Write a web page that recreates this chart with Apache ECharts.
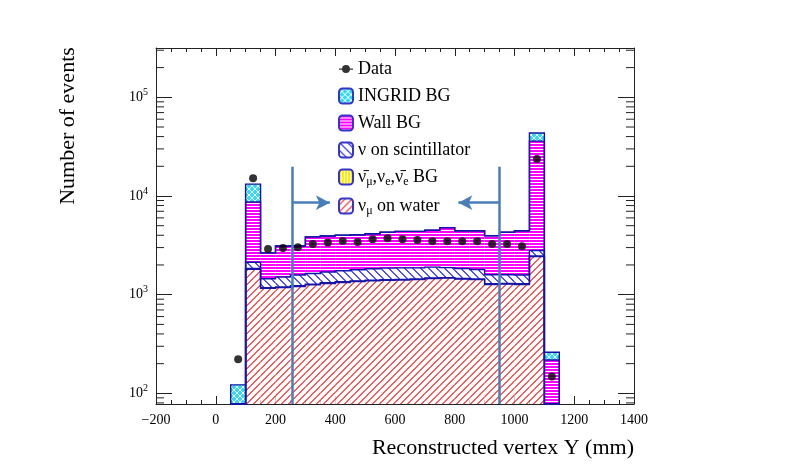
<!DOCTYPE html>
<html>
<head>
    <meta charset="utf-8" />
    <title>Reconstructed vertex Y</title>
    <script src="https://cdn.jsdelivr.net/npm/echarts@6/dist/echarts.min.js"></script>
    <style type="text/css">
        html,
        body {
            width: 100%;
            height: 100%;
            margin: 0;
            background: #fff;
        }

        #main {
            width: 792px;
            height: 476px;
        }
    </style>
</head>

<body>
    <div id="main"></div>
    <script>
        // histogram bins (lower edges, mm) and stacked components
        var binLow = [50, 100, 150, 200, 250, 300, 350, 400, 450, 500, 550, 600, 650, 700, 750, 800, 850, 900, 950, 1000, 1050, 1100];
        var binWidth = 50;
        var numuWater = [0, 1810, 1160, 1180, 1210, 1260, 1300, 1330, 1360, 1380, 1400, 1410, 1420, 1460, 1470, 1440, 1420, 1270, 1280, 1270, 2430, 0];
        var antinuBG = [0, 30, 20, 20, 20, 20, 20, 20, 20, 20, 20, 20, 20, 20, 20, 20, 20, 20, 20, 20, 40, 0];
        var scintBG = [0, 290, 270, 310, 350, 360, 380, 400, 410, 430, 440, 440, 430, 420, 390, 380, 360, 300, 290, 290, 330, 0];
        var wallBG = [0, 6570, 1200, 1600, 1530, 2210, 2230, 2250, 2260, 2320, 2440, 2510, 2510, 2590, 2900, 2610, 2650, 2360, 2700, 2870, 33200, 218];
        var ingridBG = [122, 4500, 0, 0, 0, 0, 0, 0, 0, 0, 0, 0, 0, 0, 0, 0, 0, 0, 0, 0, 7500, 43];

        var dataX = [75, 125, 175, 225, 275, 325, 375, 425, 475, 525, 575, 625, 675, 725, 775, 825, 875, 925, 975, 1025, 1075, 1125];
        var dataY = [222, 15100, 2900, 2970, 3020, 3265, 3370, 3500, 3420, 3650, 3720, 3640, 3580, 3480, 3480, 3480, 3480, 3265, 3265, 3100, 23700, 148];

        // fiducial cut lines
        var cutLow = 255, cutHigh = 950;
        var cutTop = 19800, arrowY = 8550;
        var arrowLowEnd = 382, arrowHighEnd = 812;

        var xMin = -200, xMax = 1400, xStep = 200;
        var yMin = 78, yMax = 316000;
        var yMinor = [];
        for (var e = 1; e <= 5; e++) {
            for (var m = 2; m <= 9; m++) {
                var v = m * Math.pow(10, e);
                if (v > yMin && v < yMax) yMinor.push(v);
            }
        }

        var serif = '"Liberation Serif", "DejaVu Serif", serif';
        var outlineColor = '#1414a8';

        // small pixel patterns, ROOT-like hatches
        function makePattern(w, h, bg, color, pixel) {
            var c = document.createElement('canvas');
            c.width = w;
            c.height = h;
            var g = c.getContext('2d');
            g.fillStyle = bg;
            g.fillRect(0, 0, w, h);
            g.fillStyle = color;
            for (var x = 0; x < w; x++) {
                for (var y = 0; y < h; y++) {
                    if (pixel(x, y, w, h)) g.fillRect(x, y, 1, 1);
                }
            }
            return { image: c, repeat: 'repeat' };
        }
        var waterFill = makePattern(7, 7, '#fff', '#ff5a5a', function (x, y, w) {
            var s = (x + y) % w;
            return s === w - 1 || s === w - 2;
        });
        var antinuFill = makePattern(3, 1, '#fff', '#ffee00', function (x) { return x < 2; });
        var scintFill = makePattern(8, 8, '#fff', '#5050ff', function (x, y, w) {
            var s = (x - y + w) % w;
            return s === 0 || s === 1;
        });
        var wallFill = makePattern(1, 3, '#fff', '#ff00ff', function (x, y) { return y < 2; });
        var ingridFill = makePattern(6, 6, '#2fdcf0', '#ffffff', function (x, y, w) { return x === y || x + y === w - 1; });

        var layers = [numuWater, antinuBG, scintBG, wallBG, ingridBG];
        var names = ['water', 'antinu', 'scint', 'Wall BG', 'INGRID BG'];
        var fills = [waterFill, antinuFill, scintFill, wallFill, ingridFill];

        // cumulative stack levels
        var cum = [];
        layers.forEach(function (arr, k) {
            cum.push(arr.map(function (val, i) {
                return val + (k > 0 ? cum[k - 1][i] : 0);
            }));
        });

        function layerSeries(k) {
            var items = [];
            binLow.forEach(function (x0, i) {
                var lo = k > 0 ? cum[k - 1][i] : 0;
                var hi = cum[k][i];
                if (hi > yMin && hi > lo) {
                    items.push([x0, x0 + binWidth, Math.max(lo, yMin), hi]);
                }
            });
            return {
                name: names[k],
                type: 'custom',
                silent: true,
                z: 2,
                itemStyle: { color: fills[k], borderColor: '#3535c8', borderWidth: 1 },
                encode: { x: [0, 1], y: [2, 3] },
                data: items,
                renderItem: function (params, api) {
                    var p0 = api.coord([api.value(0), api.value(3)]);
                    var p1 = api.coord([api.value(1), api.value(2)]);
                    return {
                        type: 'rect',
                        shape: { x: p0[0], y: p0[1], width: p1[0] - p0[0], height: p1[1] - p0[1] },
                        style: { fill: api.visual('color') }
                    };
                }
            };
        }

        var series = [];
        for (var k = 0; k < layers.length; k++) series.push(layerSeries(k));

        // step outlines of each stacked histogram
        series.push({
            type: 'custom',
            silent: true,
            z: 3,
            data: cum.map(function (c, k) { return [xMin, yMin, k]; }),
            renderItem: function (params, api) {
                var c = cum[params.dataIndex];
                var last = binLow.length - 1;
                var pts = [api.coord([binLow[0], yMin])];
                for (var i = 0; i <= last; i++) {
                    var v = Math.max(c[i], yMin);
                    pts.push(api.coord([binLow[i], v]));
                    pts.push(api.coord([binLow[i] + binWidth, v]));
                }
                pts.push(api.coord([binLow[last] + binWidth, yMin]));
                return {
                    type: 'polyline',
                    shape: { points: pts },
                    style: { stroke: outlineColor, lineWidth: 1.4, fill: null }
                };
            }
        });

        // log minor ticks on left and right frame
        series.push({
            type: 'custom',
            silent: true,
            z: 4,
            data: yMinor.map(function (v) { return [xMin, v]; }),
            renderItem: function (params, api) {
                var a = api.coord([xMin, api.value(1)]);
                var b = api.coord([xMax, api.value(1)]);
                return {
                    type: 'group',
                    children: [
                        { type: 'line', shape: { x1: a[0], y1: a[1], x2: a[0] + 8, y2: a[1] }, style: { stroke: '#222', lineWidth: 1 } },
                        { type: 'line', shape: { x1: b[0] - 8, y1: b[1], x2: b[0], y2: b[1] }, style: { stroke: '#222', lineWidth: 1 } }
                    ]
                };
            }
        });

        var cutStyle = { color: '#4a7ebb', width: 2.5, type: 'solid' };
        series.push({
            name: 'Data',
            type: 'scatter',
            z: 5,
            symbol: 'circle',
            symbolSize: 8,
            itemStyle: { color: '#000' },
            data: dataX.map(function (x, i) { return [x, dataY[i]]; }),
            markLine: {
                silent: true,
                symbol: ['none', 'none'],
                label: { show: false },
                lineStyle: cutStyle,
                data: [
                    [{ coord: [cutLow, cutTop] }, { coord: [cutLow, yMin] }],
                    [{ coord: [cutHigh, cutTop] }, { coord: [cutHigh, yMin] }],
                    [{ coord: [cutLow, arrowY] }, { coord: [arrowLowEnd, arrowY], symbol: 'arrow', symbolSize: [11, 14] }],
                    [{ coord: [cutHigh, arrowY] }, { coord: [arrowHighEnd, arrowY], symbol: 'arrow', symbolSize: [11, 14] }]
                ]
            }
        });

        var legendText = {
            'Data': '{t|Data}',
            'INGRID BG': '{t|INGRID BG}',
            'Wall BG': '{t|Wall BG}',
            'scint': '{t|\u03bd on scintillator}',
            'antinu': '{t|\u03bd\u0304}{s|\u03bc}{t|,\u03bd}{s|e}{t|,\u03bd\u0304}{s|e}{t| BG}',
            'water': '{t|\u03bd}{s|\u03bc}{t| on water}'
        };

        var dataIcon = 'path://M0,0 h0.01 v0.01 h-0.01 Z M14,15 h0.01 v0.01 h-0.01 Z ' +
            'M0,7 L14,7 L14,8.2 L0,8.2 Z M11,7.6 A4,4 0 1 1 3,7.6 A4,4 0 1 1 11,7.6 Z';

        var axisLine = { show: true, onZero: false, lineStyle: { color: '#222', width: 1 } };

        var option = {
            animation: false,
            backgroundColor: '#fff',
            grid: { left: 156, right: 158, top: 48, bottom: 72 },
            legend: {
                orient: 'vertical',
                left: 333,
                top: 55,
                itemWidth: 14,
                itemHeight: 15,
                itemGap: 9,
                selectedMode: false,
                data: [
                    { name: 'Data', icon: dataIcon, itemStyle: { color: '#000', borderWidth: 0 } },
                    'INGRID BG', 'Wall BG', 'scint', 'antinu', 'water'
                ],
                formatter: function (name) { return legendText[name]; },
                textStyle: {
                    color: '#000',
                    fontFamily: serif,
                    fontSize: 18,
                    rich: {
                        t: { fontFamily: serif, fontSize: 18, lineHeight: 22, color: '#000' },
                        s: { fontFamily: serif, fontSize: 12, lineHeight: 12, verticalAlign: 'bottom', color: '#000' }
                    }
                }
            },
            xAxis: [{
                type: 'value',
                min: xMin,
                max: xMax,
                interval: xStep,
                position: 'bottom',
                axisLine: axisLine,
                axisTick: { inside: true, length: 8, lineStyle: { color: '#222' } },
                minorTick: { show: true, splitNumber: 4, length: 4, lineStyle: { color: '#222' } },
                splitLine: { show: false },
                axisLabel: {
                    margin: 9,
                    color: '#000',
                    fontFamily: serif,
                    fontSize: 14,
                    formatter: function (v) { return String(v).replace('-', '\u2212'); }
                }
            }, {
                type: 'value',
                min: xMin,
                max: xMax,
                interval: xStep,
                position: 'top',
                axisLine: axisLine,
                axisTick: { inside: true, length: 8, lineStyle: { color: '#222' } },
                minorTick: { show: true, splitNumber: 4, length: 4, lineStyle: { color: '#222' } },
                splitLine: { show: false },
                axisLabel: { show: false }
            }],
            yAxis: [{
                type: 'log',
                logBase: 10,
                min: yMin,
                max: yMax,
                position: 'left',
                axisLine: axisLine,
                axisTick: { inside: true, length: 16, lineStyle: { color: '#222' } },
                splitLine: { show: false },
                axisLabel: {
                    margin: 8,
                    formatter: function (v) {
                        var p = Math.round(Math.log10(v));
                        if (Math.abs(Math.pow(10, p) - v) > 1e-6 * v) return '';
                        return '{b|10}{s|' + p + '}';
                    },
                    rich: {
                        b: { fontFamily: serif, fontSize: 14, lineHeight: 20, color: '#000' },
                        s: { fontFamily: serif, fontSize: 10, lineHeight: 10, verticalAlign: 'top', color: '#000' }
                    }
                }
            }, {
                type: 'log',
                logBase: 10,
                min: yMin,
                max: yMax,
                position: 'right',
                axisLine: axisLine,
                axisTick: { inside: true, length: 16, lineStyle: { color: '#222' } },
                splitLine: { show: false },
                axisLabel: { show: false }
            }],
            graphic: [{
                type: 'text',
                x: 68,
                y: 126,
                rotation: Math.PI / 2,
                style: {
                    text: 'Number of events',
                    font: '22px ' + serif,
                    fill: '#000',
                    align: 'center',
                    verticalAlign: 'middle'
                }
            }, {
                type: 'text',
                right: 158,
                top: 437,
                style: {
                    text: 'Reconstructed vertex Y (mm)',
                    font: '22px ' + serif,
                    fill: '#000'
                }
            }],
            series: series
        };

        var chart = echarts.init(document.getElementById('main'));
        chart.setOption(option);
    </script>
</body>
</html>
